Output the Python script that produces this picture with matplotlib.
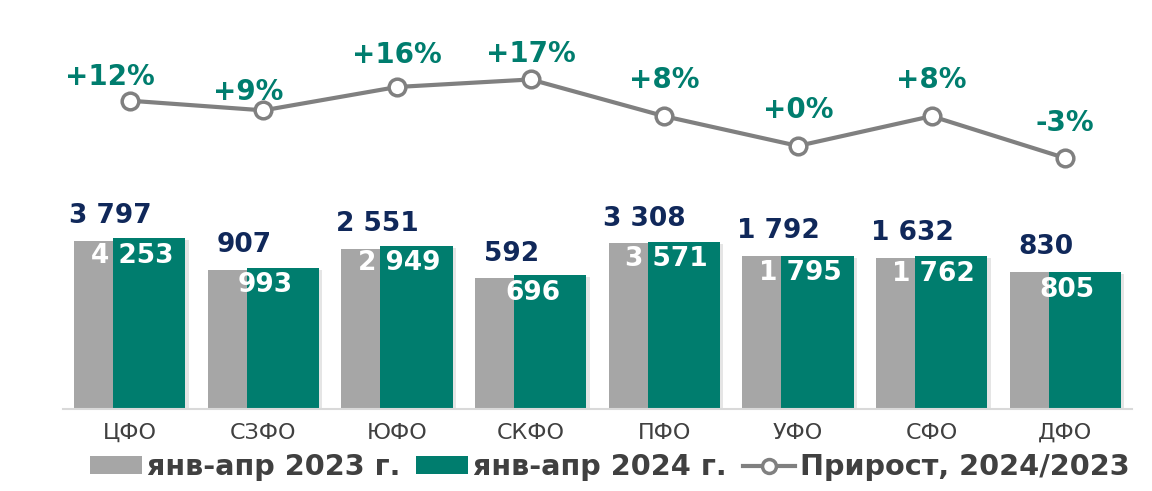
import numpy as np
import matplotlib
matplotlib.use("Agg")
import matplotlib.pyplot as plt
from matplotlib.patches import Patch
from matplotlib.lines import Line2D
import matplotlib.patheffects as pe

categories = ["ЦФО", "СЗФО", "ЮФО", "СКФО", "ПФО", "УФО", "СФО", "ДФО"]
values_2023 = [3797, 907, 2551, 592, 3308, 1792, 1632, 830]
values_2024 = [4253, 993, 2949, 696, 3571, 1795, 1762, 805]
growth_pct = [12, 9, 16, 17, 8, 0, 8, -3]
growth_exact = [100.0 * (b / a - 1) for a, b in zip(values_2023, values_2024)]
legend_labels = ["янв-апр 2023 г.", "янв-апр 2024 г.", "Прирост, 2024/2023"]

GREY = "#a6a6a6"
TEAL = "#007d6e"
NAVY = "#10285a"
LINE = "#808080"
TXT = "#404040"

W, H = 1152, 491
fig = plt.figure(figsize=(W / 100, H / 100), dpi=100)
ax_left, ax_right = 63, 1132
ax_top, ax_bot = 40, 409
ax = fig.add_axes([ax_left / W, (H - ax_bot) / H, (ax_right - ax_left) / W, (ax_bot - ax_top) / H])

x = np.arange(len(categories))
bw = 0.54
off = 0.146
shadow = [pe.SimplePatchShadow(offset=(2.5, -1.5), alpha=0.15, shadow_rgbFace="#555555"), pe.Normal()]

bars23 = ax.bar(x - off, values_2023, bw, bottom=1, color=GREY, zorder=2)
bars24 = ax.bar(x + off, values_2024, bw, bottom=1, color=TEAL, zorder=3)
for b in list(bars23) + list(bars24):
    b.set_path_effects(shadow)

ax.set_yscale("log")
ax.set_ylim(1, 10 ** 7.84)
ax.set_xlim(-0.5, len(categories) - 0.5)


def fmt(v):
    return f"{v:,}".replace(",", " ")


for i, (a, b) in enumerate(zip(values_2023, values_2024)):
    ax.annotate(fmt(a), (x[i] - off, a), xytext=(0, 12.7), textcoords="offset points",
                ha="center", va="baseline", fontsize=19, fontweight="bold", color=NAVY, zorder=5)
    ax.annotate(fmt(b), (x[i] + 0.015, b), xytext=(0, -3.2), textcoords="offset points",
                ha="center", va="top", fontsize=19, fontweight="bold", color="white", zorder=5)

ax2 = ax.twinx()
ax2.set_ylim(-68.7, 27.9)
ax2.axis("off")
ax2.plot(x, growth_exact, color=LINE, lw=3, marker="o", markersize=12,
         markerfacecolor="white", markeredgecolor=LINE, markeredgewidth=2.5, zorder=6)

ax.set_xticks(x)
ax.set_xticklabels(categories, fontsize=16, color=TXT)
ax.tick_params(axis="x", length=0, pad=10)
ax.yaxis.set_minor_locator(matplotlib.ticker.NullLocator())
ax.yaxis.set_major_locator(matplotlib.ticker.NullLocator())
ax.tick_params(axis="y", which="both", left=False, right=False, labelleft=False, labelright=False)
for s in ["top", "right", "left"]:
    ax.spines[s].set_visible(False)
ax.spines["bottom"].set_color("#d9d9d9")
ax.spines["bottom"].set_linewidth(1.5)
ax.spines["bottom"].set_zorder(4)

lab_dx = [-20, -15, 0, 0, 0, 0, 0, 0]
lab_dy = [24, 18, 32, 25, 36, 36, 36, 35]
for i, g in enumerate(growth_exact):
    s = f"{growth_pct[i]:+d}%"
    ax2.annotate(s, (x[i], g), xytext=(lab_dx[i] * 0.72, lab_dy[i] * 0.72), textcoords="offset points",
                 ha="center", va="center", fontsize=20, fontweight="bold", color=TEAL, zorder=7)

handles = [
    Patch(facecolor=GREY, edgecolor="none"),
    Patch(facecolor=TEAL, edgecolor="none"),
    Line2D([0], [0], color=LINE, lw=3, marker="o", markersize=10,
           markerfacecolor="white", markeredgecolor=LINE, markeredgewidth=2.5),
]
fig.legend(handles, legend_labels, loc="center", bbox_to_anchor=(609.5 / W, 1 - 467 / H), ncol=3,
           frameon=False, prop={"weight": "bold", "size": 20.7}, labelcolor=TXT,
           handlelength=1.81, handleheight=0.56, handletextpad=0.17, columnspacing=0.56,
           borderaxespad=0, borderpad=0)

fig.savefig("out.png", dpi=100, facecolor="white")
